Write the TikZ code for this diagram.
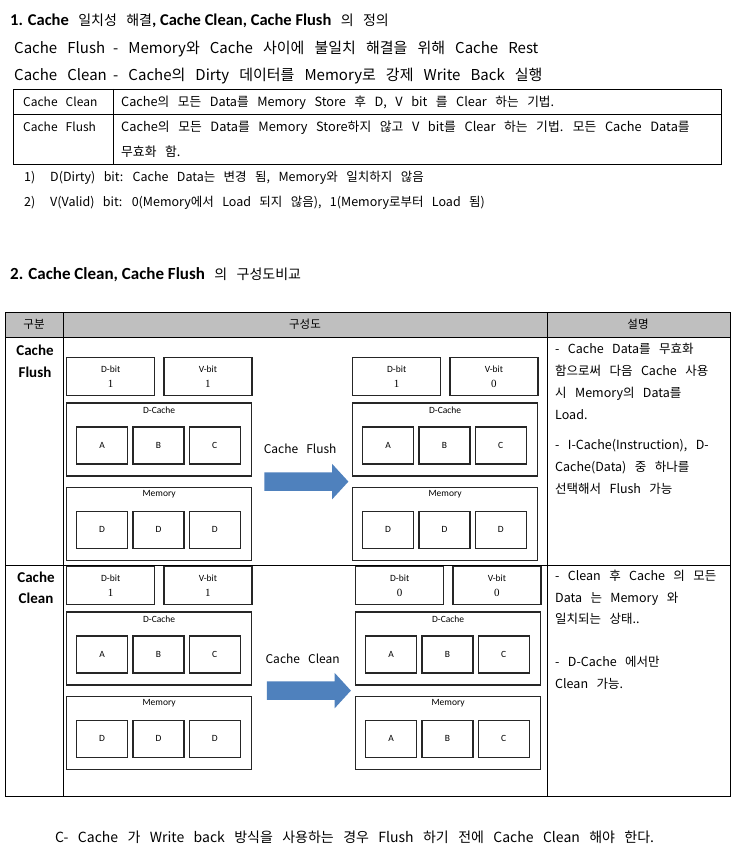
\documentclass[tikz,border=0pt]{standalone}
\usepackage{fontspec}
\setmainfont{Noto Sans CJK KR}[WordSpace=3]
\newfontfamily\calfont{Carlito}
\newfontfamily\numf{Liberation Serif}
\usepackage{xcolor}
\usepackage{tikz}
\usetikzlibrary{positioning,calc,shapes.arrows}
\definecolor{cArrow}{HTML}{4F81BD}
\definecolor{cHead}{HTML}{BFBFBF}
\definecolor{cLine}{HTML}{262626}
\tikzset{
  txt/.style={anchor=base west, inner sep=0pt, font=#1},
  tline/.style={line width=0.9pt, draw=black},
  bitbox/.style={draw=cLine, line width=1.3pt, minimum width=88pt, minimum height=38pt,
                 inner sep=0pt, align=center, anchor=north west, font=\calfont\fontsize{9.5}{15}\selectfont},
  grpbox/.style={draw=cLine, line width=1.3pt, minimum width=185pt, minimum height=73pt, inner sep=0pt},
  grplbl/.style={font=\calfont\fontsize{9.5}{11}\selectfont, inner sep=2pt},
  cellbox/.style={draw=cLine, line width=1.3pt, minimum width=51pt, minimum height=37pt,
                  inner sep=0pt, font=\calfont\fontsize{9.5}{11}\selectfont},
  bigarrow/.style={single arrow, fill=cArrow, minimum height=84pt, minimum width=35pt,
                   single arrow head extend=8.5pt, single arrow tip angle=95,
                   inner xsep=0pt, inner ysep=9pt},
  arrlbl/.style={font=\fontsize{12}{14}\selectfont, inner sep=0pt},
}
% one cache picture: prefix, x, y, D-bit, V-bit, memory cells
\newcommand\cachediag[8]{%
  \node[bitbox] (#1d) at (#2,#3) {D-bit\\{\numf\fontsize{11}{11}\selectfont #4}};
  \node[bitbox, right=8pt of #1d] (#1v) {V-bit\\{\numf\fontsize{11}{11}\selectfont #5}};
  \node[grpbox, below right=6pt and 0pt of #1d.south west] (#1c) {};
  \node[grplbl, below=2pt of #1c.north] (#1cl) {D-Cache};
  \node[cellbox, below right=24pt and 10pt of #1c.north west] (#1ca) {A};
  \node[cellbox, right=4pt of #1ca] (#1cb) {B};
  \node[cellbox, right=4pt of #1cb] (#1cc) {C};
  \node[grpbox, below right=10pt and 0pt of #1c.south west] (#1m) {};
  \node[grplbl, below=2pt of #1m.north] (#1ml) {Memory};
  \node[cellbox, below right=24pt and 10pt of #1m.north west] (#1ma) {#6};
  \node[cellbox, right=4pt of #1ma] (#1mb) {#7};
  \node[cellbox, right=4pt of #1mb] (#1mc) {#8};
}

\begin{document}
\begin{tikzpicture}[x=1pt,y=-1pt]
\useasboundingbox[fill=white] (0,0) rectangle (746,861);
% 1. definitions
\node[txt=\fontsize{14}{16}\selectfont] (head1) at (10,26)
  {{\calfont\bfseries\fontsize{16.5}{16}\selectfont 1. Cache} 일치성 해결{\calfont\bfseries\fontsize{16.5}{16}\selectfont , Cache Clean, Cache Flush} 의 정의};
\node[txt=\fontsize{15}{16}\selectfont] (fl) at (14,54) {Cache Flush};
\node[txt=\fontsize{15}{16}\selectfont] (fldef) at (113,54) {- Memory와 Cache 사이에 불일치 해결을 위해 Cache Rest};
\node[txt=\fontsize{15}{16}\selectfont] (cl) at (14,81) {Cache Clean};
\node[txt=\fontsize{15}{16}\selectfont] (cldef) at (113,81) {- Cache의 Dirty 데이터를 Memory로 강제 Write Back 실행};

\draw[tline] (13,89) rectangle (721,164);
\draw[tline] (13,114) -- (721,114);
\draw[tline] (113,89) -- (113,164);
\node[txt=\fontsize{12}{13}\selectfont] (r1a) at (23,107) {Cache Clean};
\node[txt=\fontsize{12.7}{13}\selectfont] (r1b) at (121,107) {Cache의 모든 Data를 Memory Store 후 D, V bit 를 Clear 하는 기법.};
\node[txt=\fontsize{12}{13}\selectfont] (r2a) at (23,132) {Cache Flush};
\node[txt=\fontsize{12.8}{25}\selectfont, align=left] (r2b) at (121,157)
  {Cache의 모든 Data를 Memory Store하지 않고 V bit를 Clear 하는 기법. 모든 Cache Data를\\무효화 함.};

\node[txt=\fontsize{12.5}{13}\selectfont] (n1) at (24,182) {1)};
\node[txt=\fontsize{12.5}{13}\selectfont] (n1t) at (50,182) {D(Dirty) bit: Cache Data는 변경 됨, Memory와 일치하지 않음};
\node[txt=\fontsize{12.5}{13}\selectfont] (n2) at (24,206) {2)};
\node[txt=\fontsize{12.5}{13}\selectfont] (n2t) at (50,206) {V(Valid) bit: 0(Memory에서 Load 되지 않음), 1(Memory로부터 Load 됨)};

% 2. comparison table
\node[txt=\fontsize{14}{16}\selectfont] (head2) at (10,279)
  {{\calfont\bfseries\fontsize{17}{16}\selectfont 2. Cache Clean, Cache Flush} 의 구성도비교};
\fill[cHead] (5,312) rectangle (730,337);
\draw[tline] (5,312) rectangle (730,796);
\draw[tline] (5,337) -- (730,337);
\draw[tline] (5,565) -- (730,565);
\draw[tline] (63,312) -- (63,796);
\draw[tline] (547,312) -- (547,796);
\node[font=\fontsize{11.5}{13}\selectfont] (h1) at (34,324) {구분};
\node[font=\fontsize{11.5}{13}\selectfont] (h2) at (305,324) {구성도};
\node[font=\fontsize{11.5}{13}\selectfont] (h3) at (638,324) {설명};

\node[txt=\calfont\bfseries\fontsize{15}{22}\selectfont, align=center, anchor=base] (k1) at (35,377) {Cache\\Flush};
\node[txt=\calfont\bfseries\fontsize{15}{21}\selectfont, align=center, anchor=base] (k2) at (36,603) {Cache\\Clean};

\cachediag{fa}{66}{357}{1}{1}{D}{D}{D}
\cachediag{fb}{352}{357}{1}{0}{D}{D}{D}
\node[bigarrow] (farr) at ($(fac.south east)!0.5!(fbm.north west)$) {};
\node[arrlbl] (flbl) at ($(farr.center)+(-2,-33)$) {Cache Flush};

\cachediag{ca}{66}{566}{1}{1}{D}{D}{D}
\cachediag{cb}{355}{566}{0}{0}{A}{B}{C}
\node[bigarrow, xshift=1pt] (carr) at ($(cac.south east)!0.5!(cbm.north west)$) {};
\node[arrlbl] (clbl) at ($(carr.center)+(-2,-32)$) {Cache Clean};

\node[txt=\fontsize{12.5}{22}\selectfont, align=left] (d1) at (555,493)
  {- Cache Data를 무효화\\함으로써 다음 Cache 사용\\시 Memory의 Data를\\Load.\\[8pt]- I-Cache(Instruction), D-\\Cache(Data) 중 하나를\\선택해서 Flush 가능};
\node[txt=\fontsize{12.5}{21.5}\selectfont, align=left] (d2) at (555,688)
  {- Clean 후 Cache 의 모든\\Data 는 Memory 와\\일치되는 상태..\\[21.5pt]- D-Cache 에서만\\Clean 가능.};

\node[txt=\fontsize{14}{14}\selectfont] (note) at (55,842)
  {C- Cache 가 Write back 방식을 사용하는 경우 Flush 하기 전에 Cache Clean 해야 한다.};
\end{tikzpicture}
\end{document}
